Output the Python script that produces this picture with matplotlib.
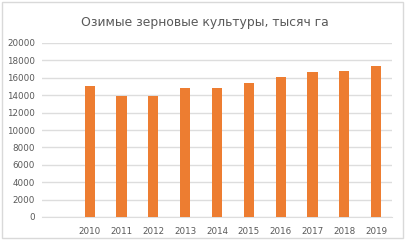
import matplotlib
matplotlib.use("Agg")
import matplotlib.pyplot as plt
from matplotlib.patches import Rectangle

# data
years = ["", "2010", "2011", "2012", "2013", "2014", "2015", "2016", "2017", "2018", "2019"]
area = [0, 15100, 13950, 13950, 14800, 14870, 15430, 16070, 16710, 16820, 17310]

fig = plt.figure(figsize=(4.09, 2.40), dpi=100)
ax = fig.add_axes([42 / 409, 23 / 240, 350 / 409, 174 / 240])

x = list(range(len(years)))
ax.bar(x, area, width=0.32, color="#ED7D31", zorder=3)

# appearance
ax.set_xlim(-0.5, len(years) - 0.5)
ax.set_ylim(0, 20000)
ax.set_yticks(range(0, 20001, 2000))
ax.set_xticks(x)
ax.set_xticklabels(years)
ax.yaxis.grid(color="#DDDDDD", linewidth=1, zorder=0)
for side in ["top", "right", "left"]:
    ax.spines[side].set_visible(False)
ax.spines["bottom"].set_color("#DDDDDD")
ax.tick_params(length=0, labelsize=6.3, labelcolor="#595959", pad=5)
ax.tick_params(axis="x", pad=7)

fig.text(0.5, 0.905, "Озимые зерновые культуры, тысяч га", ha="center", va="center",
         fontsize=8.9, color="#595959")

# chart frame
fig.patches.append(Rectangle((2 / 409, 2 / 240), 401 / 409, 236 / 240, transform=fig.transFigure,
                             fill=False, edgecolor="#D9D9D9", linewidth=1))

fig.savefig("out.png", dpi=100)
